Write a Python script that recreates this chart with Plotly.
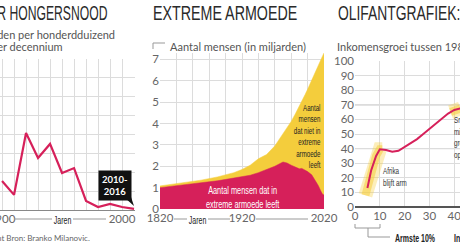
import numpy as np
import plotly.graph_objects as go

W, H = 460, 245
def px(x): return x / W
def py(y): return 1 - y / H

# ---------- data ----------
famine_years = [1900, 1910, 1920, 1930, 1940, 1950, 1960, 1970, 1980, 1990, 2000, 2010]
famine_rate = [77, 40, 204, 138, 175, 98, 111, 24, 8, 16, 8, 3]

pov_years = [1820, 1850, 1870, 1890, 1910, 1920, 1930, 1940, 1950, 1960, 1970, 1975, 1980,
             1985, 1990, 1993, 1997, 2000, 2005, 2010, 2013, 2016, 2018, 2020]
pov_extreme = [1.0, 1.13, 1.2, 1.32, 1.45, 1.5, 1.58, 1.7, 1.85, 2.0, 2.2, 2.15, 2.05,
               1.95, 1.88, 1.9, 1.82, 1.75, 1.6, 1.3, 1.1, 0.85, 0.7, 0.65]
pop_years = [1820, 1850, 1870, 1890, 1910, 1920, 1930, 1940, 1950, 1960, 1970, 1980,
             1990, 2000, 2010, 2020]
pop_total = [1.08, 1.25, 1.35, 1.5, 1.7, 1.85, 2.05, 2.35, 2.55, 2.95, 3.5, 4.1,
             4.8, 5.6, 6.5, 7.3]

eleph_pct = [5, 6.5, 8.5, 10, 12.5, 15, 17.5, 20, 22.5, 25, 27.5, 30, 32.5, 35, 37.5, 40, 42.5]
eleph_growth = [13, 25, 35, 39.5, 39, 37.8, 38.5, 41, 43.5, 46.5, 50, 53.5, 57.5, 61, 64, 66.5, 67.5]
glow1_pct = [4.2, 5, 6.5, 8.5, 10, 11]
glow1_growth = [8, 13, 25, 35, 39.5, 39.5]
glow2_pct = [38.5, 40, 42.5]
glow2_growth = [65, 66.5, 67.5]

pop_on_pov = list(np.interp(pov_years, pop_years, pop_total))

RED = "#d6205a"
YEL = "#f4cd3c"
GRID = "#dcdcdc"
SANS = "Lato, Open Sans, sans-serif"
def narrow(anchor, scale=70):  # condensed look: Liberation Sans squeezed horizontally (see post_script)
    return f"Liberation Sans, Arial, Narrow{anchor}{scale}"

fig = go.Figure()

fig.add_trace(go.Scatter(x=famine_years, y=famine_rate, mode="lines",
                         line=dict(color=RED, width=2.2), xaxis="x", yaxis="y"))
fig.add_trace(go.Scatter(x=pov_years, y=pop_on_pov, mode="lines", fill="tozeroy",
                         fillcolor=YEL, line=dict(color=YEL, width=0.5), xaxis="x2", yaxis="y2"))
fig.add_trace(go.Scatter(x=pov_years, y=pov_extreme, mode="lines", fill="tozeroy",
                         fillcolor=RED, line=dict(color=RED, width=0.5), xaxis="x2", yaxis="y2"))
for gx, gy in [(glow1_pct, glow1_growth), (glow2_pct, glow2_growth)]:
    fig.add_trace(go.Scatter(x=gx, y=gy, mode="lines", line=dict(color="rgba(245,205,60,0.35)", width=14),
                             xaxis="x3", yaxis="y3"))
    fig.add_trace(go.Scatter(x=gx, y=gy, mode="lines", line=dict(color="rgba(245,205,60,0.55)", width=8),
                             xaxis="x3", yaxis="y3"))
fig.add_trace(go.Scatter(x=eleph_pct, y=eleph_growth, mode="lines", line=dict(color=RED, width=2),
                         xaxis="x3", yaxis="y3"))

tickfont = dict(family=SANS, size=11.5, color="#666")

fig.update_layout(
    width=W, height=H, margin=dict(l=0, r=0, t=0, b=0),
    paper_bgcolor="white", plot_bgcolor="white", showlegend=False,
    xaxis=dict(domain=[0, px(135)], range=[1898.3, 2010.8], tickvals=[1900, 2000], anchor="y",
               showgrid=True, gridcolor=GRID, ticklabeloverflow="allow",
               minor=dict(dtick=10, tick0=1900, showgrid=True, gridcolor=GRID),
               zeroline=False, showline=False, ticks="", tickfont=tickfont, automargin=False),
    yaxis=dict(domain=[py(210), py(59)], range=[0, 400], dtick=50, anchor="x", showgrid=True,
               gridcolor=GRID, showticklabels=False, zeroline=True, zerolinecolor="#888",
               zerolinewidth=1.2, automargin=False),
    xaxis2=dict(domain=[px(160), px(324)], range=[1820, 2020], tickvals=[1820, 1920, 2020], anchor="y2",
                showgrid=True, gridcolor=GRID, ticklabeloverflow="allow",
                minor=dict(dtick=20, tick0=1820, showgrid=True, gridcolor=GRID),
                zeroline=False, ticks="", tickfont=tickfont, automargin=False),
    yaxis2=dict(domain=[py(209), py(53)], range=[0, 7.3], tickvals=list(range(8)), anchor="x2",
                showgrid=True, gridcolor=GRID, zeroline=False, ticks="", tickfont=tickfont,
                automargin=False),
    xaxis3=dict(domain=[px(355), 1], range=[0, 42.3], dtick=10, anchor="y3", showgrid=True,
                gridcolor=GRID, zeroline=False, ticks="", tickfont=tickfont, automargin=False,
                ticklabeloverflow="allow"),
    yaxis3=dict(domain=[py(207), py(61)], range=[0, 100], dtick=10, anchor="x3", showgrid=True,
                gridcolor=GRID, zeroline=True, zerolinecolor="#555", zerolinewidth=1.5,
                ticks="", tickfont=tickfont, automargin=False),
)

ann = []
def text(x, y, t, size, color="#333", family=SANS, xanchor="left", yanchor="middle", align="left", **kw):
    ann.append(dict(x=px(x), y=py(y), xref="paper", yref="paper", text=t, showarrow=False,
                    xanchor=xanchor, yanchor=yanchor, align=align,
                    font=dict(size=size, color=color, family=family), **kw))

# titles
text(110, 13, "DODEN DOOR HONGERSNOOD", 21, "#2a2a2a", narrow("R", 58), xanchor="right")
text(151, 13, "EXTREME ARMOEDE", 21, "#2a2a2a", narrow("L", 68))
text(336, 13, "OLIFANTGRAFIEK: HOE HET ZIT", 21, "#2a2a2a", narrow("L", 66))
# subtitles
text(117, 35, "Aantal doden per honderdduizend", 11, "#555", xanchor="right")
text(65, 46, "per decennium", 11, "#555", xanchor="right")
text(168, 47, "Aantal mensen (in miljarden)", 11, "#555")
text(335, 46, "Inkomensgroei tussen 1988 en 2008 (in %)", 11, "#555")
# axis "Jaren"
text(62, 220, "Jaren", 10, "#222", narrow("C"), xanchor="center")
text(197, 220, "Jaren", 10, "#222", narrow("C"), xanchor="center")
# source
text(92, 238, "Illustratie: Content Bron: Branko Milanovic.", 8, "#666", xanchor="right")
# box
text(114.5, 185, "<b>2010-<br>2016</b>", 9.5, "white", SANS, xanchor="center", align="center",
     bgcolor="#111", borderpad=3)
# panel 2 texts
text(243, 197, "Aantal mensen dat in<br>extreme armoede leeft", 10.5, "white", narrow("C"),
     xanchor="center", align="center")
text(323, 101, "Aantal<br>mensen<br>dat niet in<br>extreme<br>armoede<br>leeft", 8.8, "#222", narrow("R"),
     xanchor="right", yanchor="top", align="right")
# panel 3 texts
text(381, 177, "Afrika<br>blijft arm", 9, "#333", narrow("L"))
text(452, 137, "Snelle<br>middenklasse<br>groei<br>opkomst", 9, "#333", narrow("L"))
text(393, 238, "<b>Armste 10%</b>", 10, "#222", narrow("L"))
text(452, 238, "<b>Inkomensgroep</b>", 10, "#222", narrow("L"))
fig.update_layout(annotations=ann)

shapes = []
def seg(x0, y0, x1, y1, color="#999", w=1):
    shapes.append(dict(type="line", xref="paper", yref="paper", x0=px(x0), y0=py(y0),
                       x1=px(x1), y1=py(y1), line=dict(color=color, width=w)))
seg(14, 219, 52, 219); seg(73, 219, 106, 219)
seg(174, 219, 187, 219); seg(208, 219, 230, 219); seg(256, 219, 308, 219)
seg(153, 49, 153, 43); seg(153, 43, 165, 43)
seg(355, 224, 355, 228); seg(355, 228, 380, 228); seg(380, 228, 380, 224)
seg(368, 228, 368, 237); seg(368, 237, 390, 237)
for v in (40, 70):
    shapes.append(dict(type="line", xref="x3 domain", yref="y3", x0=0, x1=1, y0=v, y1=v,
                       line=dict(color="#a0a0a0", width=1), layer="below"))
shapes.append(dict(type="path", xref="paper", yref="paper",
                   path=f"M {px(124)} {py(197)} L {px(131)} {py(197)} L {px(134)} {py(206)} Z",
                   fillcolor="#111", line=dict(width=0)))
fig.update_layout(shapes=shapes)

post = """
document.querySelectorAll('text').forEach(function(t){
  var ff = t.style.fontFamily || '';
  var m = ff.match(/Narrow([LRC])(\\d+)/);
  if(!m) return;
  var o = {L:'left', R:'right', C:'center'}[m[1]];
  t.style.transformBox = 'fill-box';
  t.style.transformOrigin = o + ' center';
  t.style.transform = 'scaleX(' + (parseInt(m[2]) / 100) + ')';
});
"""
fig.write_html("out.html", post_script=post)
